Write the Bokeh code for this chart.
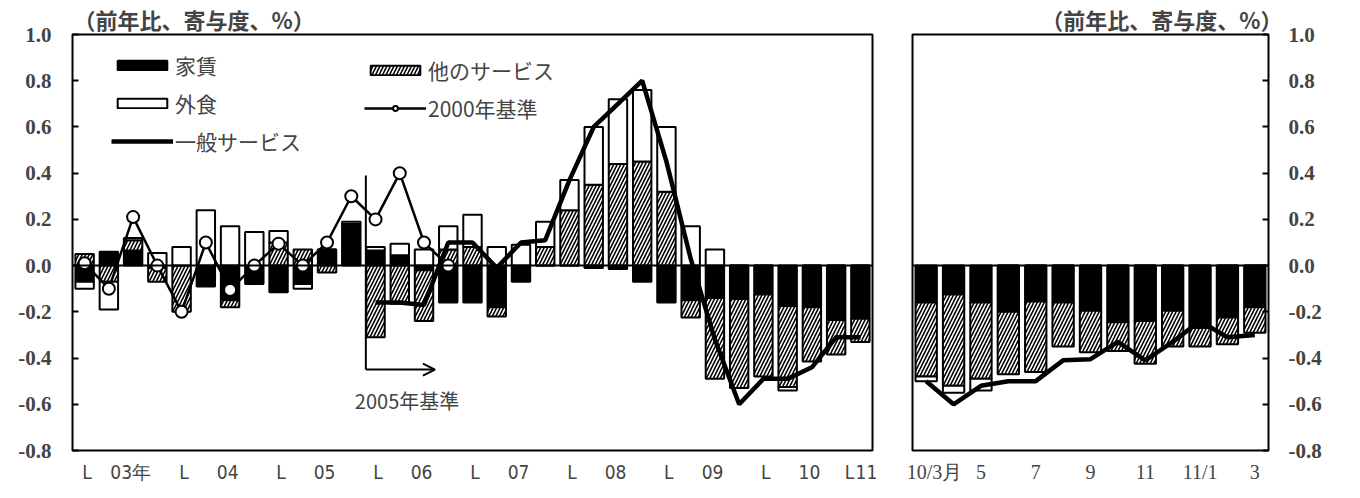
from bokeh.plotting import figure
from bokeh.layouts import row
from bokeh.models import (ColumnDataSource, FixedTicker, Range1d, Label, Arrow, OpenHead,
                          Legend, LegendItem, Span, PrintfTickFormatter)
from bokeh.embed import file_html
from bokeh.resources import INLINE

# ---------------- data ----------------
# quarterly, 2003Q1 .. 2011Q1
quarters = ["03Q1", "03Q2", "03Q3", "03Q4", "04Q1", "04Q2", "04Q3", "04Q4",
            "05Q1", "05Q2", "05Q3", "05Q4", "06Q1", "06Q2", "06Q3", "06Q4",
            "07Q1", "07Q2", "07Q3", "07Q4", "08Q1", "08Q2", "08Q3", "08Q4",
            "09Q1", "09Q2", "09Q3", "09Q4", "10Q1", "10Q2", "10Q3", "10Q4", "11Q1"]
rent_q = [-0.07, 0.06, 0.065, -0.01, 0.0, -0.09, -0.15, -0.08, -0.115, -0.08, 0.07, 0.18,
          0.065, 0.045, -0.02, -0.16, -0.16, -0.18, -0.07, 0.0, 0.0, -0.01, -0.015, -0.07,
          -0.16, -0.15, -0.14, -0.145, -0.125, -0.175, -0.18, -0.235, -0.23]
other_q = [0.05, -0.07, 0.045, -0.06, -0.20, 0.0, -0.03, 0.0, 0.10, 0.07, -0.03, 0.0,
           -0.31, -0.165, -0.22, 0.07, 0.08, -0.04, 0.0, 0.08, 0.24, 0.35, 0.44, 0.45,
           0.32, -0.075, -0.35, -0.385, -0.355, -0.35, -0.235, -0.15, -0.10]
eat_q = [-0.03, -0.12, 0.01, 0.055, 0.08, 0.24, 0.17, 0.145, 0.05, -0.02, 0.0, 0.01,
         0.015, 0.05, 0.07, 0.10, 0.14, 0.08, 0.09, 0.11, 0.13, 0.25, 0.28, 0.31,
         0.28, 0.17, 0.07, 0.0, 0.0, -0.015, 0.0, 0.0, 0.0]
# 2000-base general services (2003Q1 .. 2006Q4)
base2000_q = [0.01, -0.10, 0.21, 0.0, -0.20, 0.10, -0.105, 0.0, 0.095, 0.0, 0.10, 0.30,
              0.20, 0.40, 0.10, 0.0]
# 2005-base general services (2006Q1 .. 2011Q1)
general_q = [-0.16, -0.16, -0.17, 0.10, 0.10, -0.01, 0.10, 0.11, 0.37, 0.60, 0.70, 0.80,
             0.45, 0.03, -0.32, -0.60, -0.49, -0.49, -0.44, -0.31, -0.31]
year_labels = ["03年", "04", "05", "06", "07", "08", "09", "10", "11"]
year_mark = "L"

# monthly, 2010/3 .. 2011/3
months = ["10/3", "10/4", "10/5", "10/6", "10/7", "10/8", "10/9", "10/10", "10/11",
          "10/12", "11/1", "11/2", "11/3"]
rent_m = [-0.16, -0.125, -0.16, -0.20, -0.155, -0.16, -0.195, -0.245, -0.24, -0.195,
          -0.27, -0.225, -0.18]
other_m = [-0.32, -0.395, -0.33, -0.27, -0.305, -0.19, -0.18, -0.125, -0.185, -0.155,
           -0.08, -0.115, -0.11]
eat_m = [-0.02, -0.03, -0.05, 0.0, 0.0, 0.0, 0.0, 0.0, 0.0, 0.0, 0.0, 0.0, 0.0]
general_m = [-0.50, -0.60, -0.52, -0.50, -0.50, -0.41, -0.405, -0.33, -0.41, -0.33,
             -0.24, -0.31, -0.30]
month_labels = ["10/3月", "5", "7", "9", "11", "11/1", "3"]
title_text = "（前年比、寄与度、%）"

# ---------------- helpers ----------------
SERIF = "Liberation Serif"
JP = "Noto Sans CJK JP"
NARROW = "'DejaVu Sans Condensed', 'Liberation Sans', sans-serif"
H = 490
TOP = 33
BOTTOM = 40


def stacked(series_list):
    n = len(series_list[0])
    pos = [0.0] * n
    neg = [0.0] * n
    out = []
    for s in series_list:
        b, t = [], []
        for i, v in enumerate(s):
            if v >= 0:
                b.append(pos[i]); t.append(pos[i] + v); pos[i] += v
            else:
                b.append(neg[i]); t.append(neg[i] + v); neg[i] += v
        out.append((b, t))
    return out


def make_fig(width, n, left_border, right_border, y_loc, title_align, title_offset):
    p = figure(width=width, height=H, output_backend="svg", toolbar_location=None,
               x_range=Range1d(-0.5, n - 0.5), y_range=Range1d(-0.8, 1.0),
               y_axis_location=y_loc, min_border_left=left_border,
               min_border_right=right_border, min_border_top=TOP, min_border_bottom=BOTTOM,
               title=title_text)
    p.title.text_font = JP
    p.title.text_font_size = "22px"
    p.title.text_font_style = "bold"
    p.title.align = title_align
    p.title.offset = title_offset
    p.title.standoff = 0
    p.xgrid.visible = False
    p.ygrid.visible = False
    p.outline_line_color = "black"
    p.outline_line_width = 2
    p.background_fill_color = "white"
    p.border_fill_color = "white"
    yt = [round(-0.8 + 0.2 * k, 1) for k in range(10)]
    ya = p.yaxis[0]
    ya.ticker = FixedTicker(ticks=yt)
    ya.formatter = PrintfTickFormatter(format="%.1f")
    ya.major_tick_in = 6
    ya.major_tick_out = 0
    ya.major_tick_line_width = 2
    ya.minor_tick_line_color = None
    ya.axis_line_color = None
    ya.major_label_text_font = SERIF
    ya.major_label_text_font_size = "21px"
    ya.major_label_text_font_style = "bold"
    ya.major_label_standoff = 21
    xa = p.xaxis[0]
    xa.major_tick_line_color = None
    xa.minor_tick_line_color = None
    xa.axis_line_color = None
    xa.major_label_text_font = NARROW
    xa.major_label_text_font_size = "19px"
    xa.major_label_standoff = 4
    p.add_layout(Span(location=0, dimension="width", line_color="black", line_width=2))
    return p


def draw_bars(p, x, rent, other, eat, width):
    (rb, rt), (ob, ot), (eb, et) = stacked([rent, other, eat])
    src = ColumnDataSource(dict(x=x, rb=rb, rt=rt, ob=ob, ot=ot, eb=eb, et=et))
    r1 = p.vbar(x="x", bottom="rb", top="rt", width=width, source=src,
                fill_color="black", line_color="black", line_width=2)
    r2 = p.vbar(x="x", bottom="ob", top="ot", width=width, source=src,
                fill_color="white", line_color="black", line_width=2,
                hatch_pattern="/", hatch_color="black", hatch_weight=1.6, hatch_scale=7)
    r3 = p.vbar(x="x", bottom="eb", top="et", width=width, source=src,
                fill_color="white", line_color="black", line_width=2)
    return r1, r2, r3


# ---------------- left panel (quarterly) ----------------
nq = len(quarters)
xq = list(range(nq))
p1 = make_fig(888, nq, 72, 16, "left", "left", 1)
r_rent, r_other, r_eat = draw_bars(p1, xq, rent_q, other_q, eat_q, 0.76)

x2000 = xq[:len(base2000_q)]
r_l2000 = p1.line(x2000, base2000_q, line_color="black", line_width=2.5)
r_c2000 = p1.scatter(x2000, base2000_q, size=12, marker="circle", fill_color="white",
                     line_color="black", line_width=2)
xgen = xq[nq - len(general_q):]
r_gen = p1.line(xgen, general_q, line_color="black", line_width=4.5)

# x axis: year-start marks and year labels
mark_pos = [4 * k + 0.1 for k in range(8)] + [31.55]
year_pos = [4 * k + 1.9 for k in range(8)] + [32.25]
overrides = {pos: year_mark for pos in mark_pos}
overrides.update({pos: lab for pos, lab in zip(year_pos, year_labels)})
p1.xaxis[0].ticker = FixedTicker(ticks=sorted(mark_pos + year_pos))
p1.xaxis[0].major_label_overrides = overrides

# 2005 base marker
p1.segment(x0=[11.6], y0=[0.39], x1=[11.6], y1=[-0.45], line_color="black", line_width=2)
p1.add_layout(Arrow(x_start=11.6, y_start=-0.45, x_end=14.45, y_end=-0.45,
                    line_color="black", line_width=2,
                    end=OpenHead(size=12, line_color="black", line_width=2)))
p1.add_layout(Label(x=13.3, y=-0.585, text="2005年基準", text_font=JP,
                    text_font_size="20px", text_align="center", text_baseline="middle"))

# legends
leg_kw = dict(glyph_width=62, glyph_height=12, label_standoff=2, spacing=8,
              padding=0, margin=0, border_line_color=None, background_fill_alpha=0,
              label_text_font=JP, label_text_font_size="21px", label_height=20)
leg1 = Legend(items=[LegendItem(label="家賃", renderers=[r_rent]),
                     LegendItem(label="外食", renderers=[r_eat]),
                     LegendItem(label="一般サービス", renderers=[r_gen])],
              location=(39, 294), **leg_kw)
leg2 = Legend(items=[LegendItem(label="他のサービス", renderers=[r_other]),
                     LegendItem(label="2000年基準", renderers=[r_l2000, r_c2000])],
              location=(292, 327), **leg_kw)
p1.add_layout(leg1)
p1.add_layout(leg2)

# ---------------- right panel (monthly) ----------------
nm = len(months)
xm = list(range(nm))
p2 = make_fig(462, nm, 24, 82, "right", "right", -14)
draw_bars(p2, xm, rent_m, other_m, eat_m, 0.78)
p2.line(xm, general_m, line_color="black", line_width=4.5)
month_pos = [0.3, 2, 4, 6, 8, 10, 12]
p2.xaxis[0].ticker = FixedTicker(ticks=month_pos)
p2.xaxis[0].major_label_overrides = {pos: lab for pos, lab in zip(month_pos, month_labels)}
p2.xaxis[0].major_label_text_font = SERIF
p2.xaxis[0].major_label_text_font_size = "20px"
p2.yaxis[0].major_label_standoff = 20

layout = row(p1, p2)
open("out.html", "w").write(file_html(layout, INLINE))
